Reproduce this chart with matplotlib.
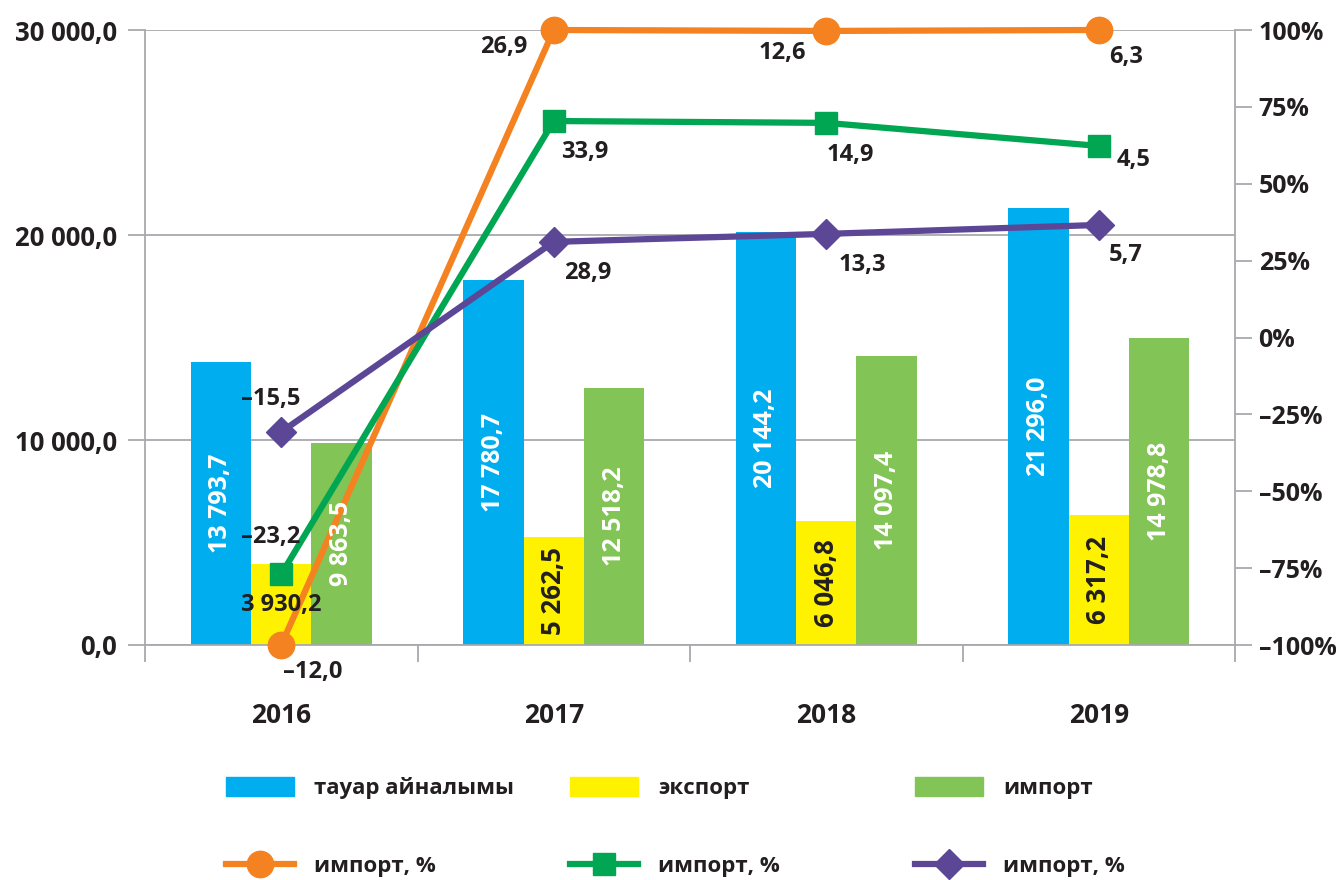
import numpy as np
import matplotlib
matplotlib.use("Agg")
import matplotlib.pyplot as plt
from matplotlib.patches import Patch
from matplotlib.lines import Line2D

years = ["2016", "2017", "2018", "2019"]

# bars (left axis)
turnover = [13793.7, 17780.7, 20144.2, 21296.0]
export = [3930.2, 5262.5, 6046.8, 6317.2]
imports = [9863.5, 12518.2, 14097.4, 14978.8]

# lines (right axis) - positions as drawn in the chart, and their printed labels
orange_pos = [-100, 100, 99.7, 100]
orange_lbl = ["–12,0", "26,9", "12,6", "6,3"]
green_pos = [-77.0, 70.4, 69.8, 62.3]
green_lbl = ["–23,2", "33,9", "14,9", "4,5"]
purple_pos = [-30.7, 31.1, 33.7, 36.6]
purple_lbl = ["–15,5", "28,9", "13,3", "5,7"]

legend_bars = ["тауар айналымы", "экспорт", "импорт"]
legend_lines = ["импорт, %", "импорт, %", "импорт, %"]

BLUE = "#00aeef"
YELLOW = "#fff200"
LGREEN = "#82c455"
ORANGE = "#f58220"
GREEN = "#00a651"
PURPLE = "#5c4696"
GREY = "#a7a9ac"
DARK = "#231f20"


def fmt(v):
    return f"{v:,.1f}".replace(",", " ").replace(".", ",")


fig = plt.figure(figsize=(13.36, 8.8), dpi=100)
ax = fig.add_axes([145 / 1336, 1 - 645 / 880, 1090 / 1336, 615 / 880])

x = np.arange(len(years))
w = 0.222
ax.bar(x - w, turnover, w, color=BLUE, zorder=2)
ax.bar(x, export, w, color=YELLOW, zorder=2)
ax.bar(x + w, imports, w, color=LGREEN, zorder=2)

ax.set_xlim(-0.5, 3.5)
ax.set_ylim(0, 30000)
ax.set_yticks([0, 10000, 20000, 30000])
ax.set_yticklabels([fmt(v) for v in [0, 10000, 20000, 30000]],
                   fontfamily="Open Sans", fontweight="bold", fontsize=18.5, color=DARK)
ax.grid(axis="y", color=GREY, lw=1.3)
ax.set_axisbelow(True)
for s in ["top", "right"]:
    ax.spines[s].set_visible(False)
for s in ["left", "bottom"]:
    ax.spines[s].set_color(GREY)
    ax.spines[s].set_linewidth(1.3)
ax.tick_params(axis="y", length=12, width=1.3, color=GREY, pad=8)

ax.set_xticks(x)
ax.set_xticklabels(years, fontfamily="Open Sans", fontweight="bold", fontsize=19, color=DARK)
ax.set_xticks([-0.5, 0.5, 1.5, 2.5, 3.5], minor=True)
ax.tick_params(axis="x", which="major", length=0, pad=41)
ax.tick_params(axis="x", which="minor", length=12, width=1.3, color=GREY)

ax2 = ax.twinx()
ax2.set_ylim(-100, 100)
pct = list(range(-100, 101, 25))
ax2.set_yticks(pct)
ax2.set_yticklabels([f"{p}%".replace("-", "–") for p in pct],
                    fontfamily="Open Sans", fontweight="bold", fontsize=18, color=DARK)
for s in ["top", "left", "bottom"]:
    ax2.spines[s].set_visible(False)
ax2.spines["right"].set_color(GREY)
ax2.spines["right"].set_linewidth(1.3)
ax2.tick_params(axis="y", length=12, width=1.3, color=GREY, pad=5)

ax2.plot(x, orange_pos, color=ORANGE, lw=4.5, marker="o", ms=19, clip_on=False, zorder=3)
ax2.plot(x, green_pos, color=GREEN, lw=4.5, marker="s", ms=16, clip_on=False, zorder=3)
ax2.plot(x, purple_pos, color=PURPLE, lw=4.5, marker="D", ms=15, clip_on=False, zorder=3)

lbl_kw = dict(textcoords="offset pixels", ha="center", va="center", fontsize=17,
              fontfamily="Open Sans", fontweight="bold", color=DARK, zorder=5,
              annotation_clip=False)
orange_off = [(31, -27), (-50, -17), (-44, -22), (27, -27)]
green_off = [(-11, 37), (31, -31), (24, -32), (35, -14)]
purple_off = [(-11, 33), (34, -31), (36, -31), (27, -30)]
for pos, lbls, offs in [(orange_pos, orange_lbl, orange_off),
                        (green_pos, green_lbl, green_off),
                        (purple_pos, purple_lbl, purple_off)]:
    for xi, yi, t, o in zip(x, pos, lbls, offs):
        ax2.annotate(t, (xi, yi), xytext=o, **lbl_kw)

# bar value labels
for i in range(len(years)):
    ax2.text(x[i] - w, turnover[i] / 2, fmt(turnover[i]), transform=ax.transData,
             rotation=90, ha="center", va="center", color="white", fontsize=18,
             fontfamily="Open Sans", fontweight="bold", zorder=4)
    ax2.text(x[i] + w, imports[i] / 2, fmt(imports[i]), transform=ax.transData,
             rotation=90, ha="center", va="center", color="white", fontsize=18,
             fontfamily="Open Sans", fontweight="bold", zorder=4)
    rot = 0 if export[i] < 5000 else 90
    ax2.text(x[i], export[i] / 2, fmt(export[i]), transform=ax.transData,
             rotation=rot, ha="center", va="center", color=DARK,
             fontsize=17 if rot == 0 else 18.5,
             fontfamily="Open Sans", fontweight="bold", zorder=6)

# legend: six single-entry legends laid out in two rows
cols = [226, 570, 915]
bar_handles = [Patch(color=BLUE), Patch(color=YELLOW), Patch(color=LGREEN)]
line_handles = [Line2D([], [], color=ORANGE, lw=4.5, marker="o", ms=19),
                Line2D([], [], color=GREEN, lw=4.5, marker="s", ms=16),
                Line2D([], [], color=PURPLE, lw=4.5, marker="D", ms=15)]
leg_kw = dict(loc="center left", frameon=False, borderpad=0, borderaxespad=0,
              handlelength=3.05, handleheight=0.98, handletextpad=0.9,
              prop={"family": "Open Sans", "size": 16, "weight": "bold"})
for cx, h, t in zip(cols, bar_handles, legend_bars):
    leg = fig.legend([h], [t], bbox_to_anchor=(cx / 1336, 1 - 788 / 880), **leg_kw)
    for txt in leg.get_texts():
        txt.set_color(DARK)
for cx, h, t in zip(cols, line_handles, legend_lines):
    leg = fig.legend([h], [t], bbox_to_anchor=(cx / 1336, 1 - 866 / 880), **leg_kw)
    for txt in leg.get_texts():
        txt.set_color(DARK)

fig.savefig("out.png", dpi=100)
